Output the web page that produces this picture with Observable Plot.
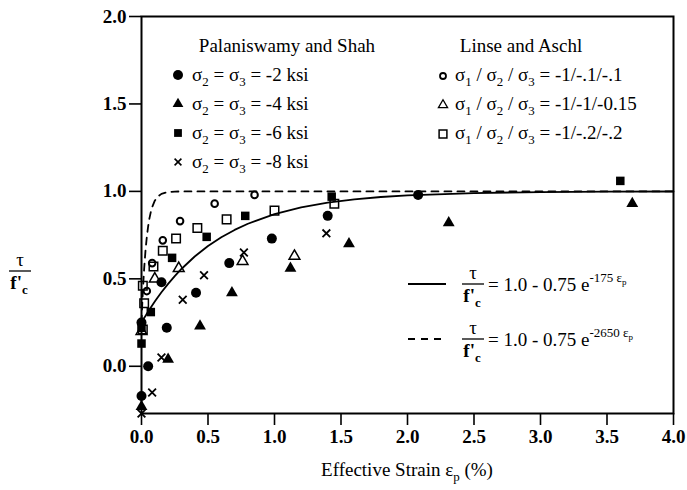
<!DOCTYPE html>
<html><head><meta charset="utf-8">
<script src="https://cdn.jsdelivr.net/npm/d3@7"></script>
<script src="https://cdn.jsdelivr.net/npm/@observablehq/plot@0.6"></script>
<style>body{margin:0;background:#fff}</style>
</head><body><div id="chart"></div>
<div style="width:687px;box-sizing:border-box;padding-left:127px;text-align:center;font-family:'Times New Roman';font-size:19px;line-height:30px;color:#000">Effective Strain &#949;<span style="font-size:13px;position:relative;top:5px">p</span> (%)</div>
<script>
// ---- Data (x = effective strain %, y = tau / f'c) ----
// Palaniswamy and Shah
const ps2X = [0, 0, 0.05, 0.19, 0.15, 0.41, 0.66, 0.98, 1.40, 2.08];
const ps2Y = [-0.17, 0.25, 0.00, 0.22, 0.48, 0.42, 0.59, 0.73, 0.86, 0.98];
const ps4X = [0, 0.20, 0.44, 0.68, 1.12, 1.56, 2.31, 3.69];
const ps4Y = [-0.23, 0.04, 0.23, 0.42, 0.56, 0.70, 0.82, 0.93];
const ps6X = [0, 0, 0.07, 0.23, 0.49, 0.78, 1.43, 3.60];
const ps6Y = [0.13, 0.22, 0.31, 0.62, 0.74, 0.86, 0.97, 1.06];
const ps8X = [0, 0.08, 0.15, 0.31, 0.47, 0.77, 1.39];
const ps8Y = [-0.27, -0.15, 0.05, 0.38, 0.52, 0.65, 0.76];
// Linse and Aschl
const la1X = [0.04, 0.08, 0.16, 0.29, 0.55, 0.85];
const la1Y = [0.43, 0.59, 0.72, 0.83, 0.93, 0.98];
const la2X = [0, 0.10, 0.28, 0.76, 1.15];
const la2Y = [0.20, 0.50, 0.56, 0.60, 0.63];
const la3X = [0.01, 0.02, 0.01, 0.09, 0.16, 0.26, 0.42, 0.64, 1.00, 1.45];
const la3Y = [0.21, 0.36, 0.46, 0.57, 0.66, 0.73, 0.79, 0.84, 0.89, 0.93];

// Fitted curves as printed on the chart: tau/f'c = 1.0 - 0.75 e^(-k eps_p)
const curveA = 1.0, curveB = 0.75;
const kSolid = 175, kDashed = 2650;
const curveStrain = [0, 0.002, 0.005, 0.01, 0.015, 0.02, 0.03, 0.04, 0.05, 0.06, 0.07, 0.08, 0.1, 0.12, 0.15, 0.2, 0.25, 0.3, 0.4, 0.5, 0.6, 0.7, 0.8, 1.0, 1.2, 1.4, 1.6, 1.8, 2.0, 2.5, 3.0, 3.5, 4.0];

// Axes
const xTicks = [0, 0.5, 1, 1.5, 2, 2.5, 3, 3.5, 4];
const yTicks = [0, 0.5, 1, 1.5, 2];
const xDomain = [0, 4];
const yDomain = [-0.27, 2];

// Legend texts
const psTitle = "Palaniswamy and Shah";
const psLabels = ["-2 ksi", "-4 ksi", "-6 ksi", "-8 ksi"];
const laTitle = "Linse and Aschl";
const laLabels = ["-1/-.1/-.1", "-1/-1/-0.15", "-1/-.2/-.2"];
const eqExps = ["175", "2650"];

// ---- build tables ----
const zip = (xs, ys) => xs.map((x, i) => ({x, y: ys[i]}));
const curve = k => curveStrain.map(e => ({x: e, y: curveA - curveB * Math.exp(-k * e / 100)}));

const FONT = "Times New Roman";
const fmt = d3.format(".1f");

const plot = Plot.plot({
  width: 687, height: 455,
  marginLeft: 141, marginRight: 14, marginTop: 16, marginBottom: 42,
  style: {fontFamily: FONT, fontSize: "19px", background: "#fff", color: "#000"},
  x: {domain: xDomain},
  y: {domain: yDomain},
  marks: [
    Plot.frame({stroke: "#000", strokeWidth: 2}),
    Plot.axisX({ticks: xTicks, tickFormat: fmt, tickSize: 12, tickPadding: 4, fontSize: 19, fontWeight: "bold", label: null, strokeWidth: 1.6}),
    Plot.axisY({ticks: yTicks, tickFormat: fmt, tickSize: 12, tickPadding: 3, fontSize: 19, fontWeight: "bold", label: null, strokeWidth: 1.6}),
    Plot.line(curve(kSolid), {x: "x", y: "y", stroke: "#000", strokeWidth: 1.8}),
    Plot.line(curve(kDashed), {x: "x", y: "y", stroke: "#000", strokeWidth: 1.8, strokeDasharray: "7,6"}),
    Plot.dot(zip(ps2X, ps2Y), {x: "x", y: "y", symbol: "circle", r: 5, fill: "#000", stroke: "none"}),
    Plot.dot(zip(ps4X, ps4Y), {x: "x", y: "y", symbol: "triangle", r: 4.4, fill: "#000", stroke: "none"}),
    Plot.dot(zip(ps6X, ps6Y), {x: "x", y: "y", symbol: "square", r: 4.8, fill: "#000", stroke: "none"}),
    Plot.dot(zip(ps8X, ps8Y), {x: "x", y: "y", symbol: "times", r: 3.6, stroke: "#000", strokeWidth: 1.8}),
    Plot.dot(zip(la1X, la1Y), {x: "x", y: "y", symbol: "circle", r: 3.3, fill: "#fff", stroke: "#000", strokeWidth: 2}),
    Plot.dot(zip(la2X, la2Y), {x: "x", y: "y", symbol: "triangle", r: 4, fill: "none", stroke: "#000", strokeWidth: 1.5}),
    Plot.dot(zip(la3X, la3Y), {x: "x", y: "y", symbol: "square", r: 4.8, fill: "none", stroke: "#000", strokeWidth: 1.5}),
  ]
});
document.getElementById("chart").append(plot);
plot.style.display = "block";
plot.querySelectorAll("text").forEach(t => t.style.fontFamily = FONT);

// ---- annotations (legend, equations, y-axis title) ----
const svg = d3.select(plot);
const g = svg.append("g").attr("fill", "#000").attr("text-anchor", "start").style("font-family", FONT);
const FS = 19;

// text with sub/superscripts: parts are strings or [text, kind, size]
function rich(x, y, parts, size, anchor = "start") {
  const t = g.append("text").attr("x", x).attr("y", y).attr("font-size", size).attr("text-anchor", anchor).style("font-family", FONT);
  let offset = 0;
  parts.forEach(p => {
    const [txt, kind, fsz] = typeof p === "string" ? [p, null, size] : p;
    const target = kind === "sub" ? size * 0.28 : kind === "sup" ? -size * 0.45 : kind === "supsub" ? -size * 0.34 : 0;
    const fs = fsz || (kind ? size * 0.68 : size);
    t.append("tspan").attr("font-size", fs).attr("dy", target - offset).style("font-family", FONT).text(txt);
    offset = target;
  });
  return t;
}
function sym(type, x, y, r, filled, sw = 1.5) {
  g.append("path").attr("transform", `translate(${x},${y})`)
    .attr("d", d3.symbol(type, Math.PI * r * r)())
    .attr("fill", filled ? "#000" : "none")
    .attr("stroke", filled ? "none" : "#000")
    .attr("stroke-width", sw);
}

// Palaniswamy and Shah block
rich(287, 52, [psTitle], FS, "middle");
const psRows = [75, 104, 133, 162];
psLabels.forEach((lab, i) => {
  const y = psRows[i];
  if (i === 0) sym(d3.symbolCircle, 178, y, 5, true);
  if (i === 1) sym(d3.symbolTriangle, 178, y, 4, true);
  if (i === 2) sym(d3.symbolSquare, 178, y, 4.4, true);
  if (i === 3) sym(d3.symbolTimes, 178, y, 3.2, false, 1.6);
  rich(192, y + 6, ["\u03C3", ["2", "sub"], " = \u03C3", ["3", "sub"], " = " + lab], FS);
});

// Linse and Aschl block
rich(521, 52, [laTitle], FS, "middle");
const laRows = [75, 104, 133];
laLabels.forEach((lab, i) => {
  const y = laRows[i];
  if (i === 0) g.append("circle").attr("cx", 443).attr("cy", y + 1).attr("r", 3).attr("fill", "none").attr("stroke", "#000").attr("stroke-width", 1.8);
  if (i === 1) sym(d3.symbolTriangle, 443, y + 1, 3.4, false, 1.3);
  if (i === 2) sym(d3.symbolSquare, 443, y + 1, 4.4, false, 1.5);
  rich(455, y + 6, ["\u03C3", ["1", "sub"], " / \u03C3", ["2", "sub"], " / \u03C3", ["3", "sub"], " = " + lab], FS);
});

// fraction tau / f'c
function frac(cx, cy, size) {
  rich(cx, cy - 5, ["\u03C4"], size, "middle");
  g.append("line").attr("x1", cx - 11).attr("x2", cx + 11).attr("y1", cy).attr("y2", cy).attr("stroke", "#000").attr("stroke-width", 1.3);
  rich(cx - 1, cy + 18, ["f'", ["c", "sub"]], size, "middle").attr("font-weight", "bold");
}

// equations legend
const eqRows = [284, 339];
eqExps.forEach((k, i) => {
  const y = eqRows[i];
  const ln = g.append("line").attr("x1", 408).attr("x2", 446).attr("y1", y).attr("y2", y).attr("stroke", "#000").attr("stroke-width", 1.8);
  if (i === 1) ln.attr("stroke-dasharray", "7,6");
  frac(473, y, FS);
  rich(488, y + 7, ["= 1.0 - 0.75 e", ["-" + k + " \u03B5", "sup", 13], ["p", "supsub", 9]], FS);
});

// y axis title
frac(20, 271, FS);
</script>
</body></html>
